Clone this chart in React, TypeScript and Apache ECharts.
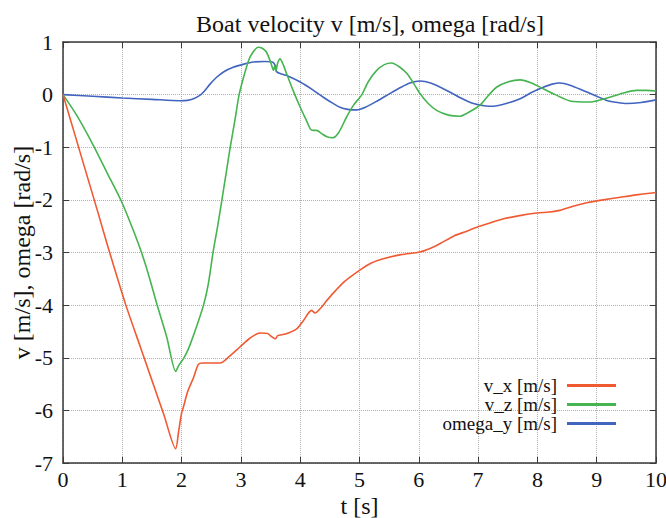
import React, { useEffect, useRef } from "react";
import * as echarts from "echarts";

const titleText = "Boat velocity v [m/s], omega [rad/s]";
const xName = "t [s]";
const yName = "v [m/s], omega [rad/s]";
const seriesNames = ["v_x [m/s]", "v_z [m/s]", "omega_y [m/s]"];
const seriesColors = ["#f05a32", "#46b450", "#4164be"];

const tVx = [0, 0.2, 0.4, 0.6, 0.76, 1.06, 1.3, 1.5, 1.7, 1.9, 1.95, 2.0, 2.03, 2.1, 2.2, 2.28, 2.35, 2.5, 2.65, 2.8, 2.98, 3.15, 3.32, 3.45, 3.52, 3.58, 3.62, 3.75, 3.94, 4.05, 4.19, 4.25, 4.35, 4.45, 4.6, 4.75, 5.0, 5.2, 5.4, 5.7, 6.02, 6.2, 6.36, 6.6, 6.8, 6.98, 7.2, 7.43, 7.7, 7.99, 8.2, 8.38, 8.6, 8.85, 9.11, 9.4, 9.7, 10];
const vx = [0, -0.76, -1.52, -2.28, -2.9, -4.0, -4.78, -5.43, -6.08, -6.73, -6.4, -6.05, -5.94, -5.65, -5.38, -5.13, -5.1, -5.1, -5.1, -4.98, -4.8, -4.63, -4.53, -4.54, -4.6, -4.64, -4.58, -4.55, -4.45, -4.3, -4.1, -4.15, -4.05, -3.91, -3.72, -3.55, -3.34, -3.2, -3.12, -3.04, -2.99, -2.92, -2.83, -2.68, -2.6, -2.52, -2.44, -2.36, -2.3, -2.25, -2.23, -2.2, -2.12, -2.05, -2.0, -1.95, -1.9, -1.86];

const tVz = [0, 0.23, 0.5, 0.75, 0.99, 1.2, 1.33, 1.45, 1.58, 1.75, 1.9, 1.95, 2.03, 2.1, 2.17, 2.27, 2.37, 2.45, 2.53, 2.6, 2.68, 2.75, 2.82, 2.9, 2.97, 3.05, 3.13, 3.2, 3.29, 3.36, 3.43, 3.5, 3.55, 3.57, 3.59, 3.62, 3.66, 3.72, 3.77, 3.88, 4.0, 4.1, 4.17, 4.22, 4.28, 4.36, 4.45, 4.55, 4.65, 4.78, 4.9, 5.04, 5.15, 5.29, 5.42, 5.54, 5.67, 5.8, 5.92, 6.02, 6.15, 6.3, 6.5, 6.69, 6.85, 7.03, 7.17, 7.31, 7.5, 7.71, 7.9, 8.1, 8.3, 8.55, 8.89, 9.22, 9.45, 9.67, 9.85, 10];
const vz = [0, -0.39, -0.94, -1.5, -2.04, -2.62, -3.02, -3.45, -3.97, -4.61, -5.26, -5.15, -5.02, -4.87, -4.67, -4.35, -4.0, -3.6, -3.0, -2.55, -2.0, -1.5, -1.0, -0.48, 0, 0.35, 0.65, 0.8, 0.9, 0.88, 0.81, 0.62, 0.46, 0.55, 0.45, 0.6, 0.68, 0.55, 0.4, 0.08, -0.24, -0.48, -0.65, -0.68, -0.68, -0.74, -0.8, -0.82, -0.72, -0.43, -0.2, 0, 0.25, 0.46, 0.57, 0.6, 0.53, 0.4, 0.2, 0.02, -0.16, -0.3, -0.39, -0.41, -0.33, -0.2, -0.02, 0.14, 0.24, 0.28, 0.22, 0.11, 0.0, -0.12, -0.14, -0.05, 0.03, 0.08, 0.08, 0.07];

const tOm = [0, 0.5, 1.0, 1.5, 1.97, 2.1, 2.2, 2.3, 2.37, 2.48, 2.59, 2.72, 2.87, 3.05, 3.21, 3.4, 3.53, 3.58, 3.6, 3.66, 3.8, 4.0, 4.2, 4.39, 4.5, 4.67, 4.8, 4.95, 5.1, 5.3, 5.51, 5.7, 5.85, 6.02, 6.2, 6.47, 6.7, 6.92, 7.1, 7.26, 7.5, 7.71, 7.9, 8.1, 8.25, 8.38, 8.55, 8.77, 9.0, 9.17, 9.35, 9.51, 9.75, 10];
const om = [0, -0.03, -0.065, -0.09, -0.115, -0.11, -0.08, -0.02, 0.05, 0.2, 0.33, 0.44, 0.52, 0.58, 0.62, 0.63, 0.62, 0.55, 0.44, 0.4, 0.35, 0.24, 0.1, -0.05, -0.13, -0.24, -0.28, -0.29, -0.24, -0.12, 0.02, 0.14, 0.22, 0.26, 0.22, 0.08, -0.06, -0.17, -0.21, -0.22, -0.16, -0.08, 0.04, 0.14, 0.2, 0.22, 0.18, 0.08, -0.03, -0.11, -0.15, -0.17, -0.15, -0.1];

const xMin = 0, xMax = 10, xInterval = 1;
const yMin = -7, yMax = 1, yInterval = 1;

const zip = (a: number[], b: number[]) => a.map((t, i) => [t, b[i]]);

const FONT = "Liberation Serif";

export default function App() {
  const ref = useRef<HTMLDivElement>(null);
  useEffect(() => {
    if (!ref.current) return;
    const chart = echarts.init(ref.current, undefined, { renderer: "svg" });
    const frame = { show: true, onZero: false, lineStyle: { color: "#3a3a3a", width: 1.5 } };
    const tick = { show: true, inside: true, length: 6, lineStyle: { color: "#3a3a3a", width: 1 } };
    const split = { show: true, lineStyle: { color: "#b0b0b0", type: "dotted", width: 1 } };
    const label = { fontFamily: FONT, fontSize: 22, color: "#111" };
    const datasets = [zip(tVx, vx), zip(tVz, vz), zip(tOm, om)];
    chart.setOption({
      animation: false,
      backgroundColor: "#ffffff",
      textStyle: { fontFamily: FONT },
      title: {
        text: titleText,
        left: 365,
        textAlign: "center",
        top: 7,
        textStyle: { fontFamily: FONT, fontSize: 24, fontWeight: "normal", color: "#111" },
      },
      grid: { left: 63, right: 10, top: 42, bottom: 55, outerBoundsMode: "none", containLabel: false },
      legend: {
        orient: "vertical",
        align: "right",
        right: 50,
        top: 376,
        padding: 0,
        itemWidth: 49,
        itemHeight: 3,
        itemGap: 0,
        icon: "rect",
        data: seriesNames,
        textStyle: { fontFamily: FONT, fontSize: 19, lineHeight: 19, color: "#111", padding: [0, 5, 0, 0] },
      },
      xAxis: [
        {
          type: "value", min: xMin, max: xMax, interval: xInterval,
          name: xName, nameLocation: "middle", nameGap: 31, nameMoveOverlap: false,
          nameTextStyle: { fontFamily: FONT, fontSize: 24, color: "#111" },
          axisLine: frame, axisTick: tick, splitLine: split,
          axisLabel: { ...label, margin: 5 },
        },
        {
          type: "value", min: xMin, max: xMax, interval: xInterval, position: "top",
          axisLine: frame, axisTick: tick, splitLine: { show: false }, axisLabel: { show: false },
        },
      ],
      yAxis: [
        {
          type: "value", min: yMin, max: yMax, interval: yInterval,
          name: yName, nameLocation: "middle", nameGap: 29, nameMoveOverlap: false,
          nameTextStyle: { fontFamily: FONT, fontSize: 24, color: "#111" },
          axisLine: frame, axisTick: tick, splitLine: split,
          axisLabel: { ...label, margin: 10 },
        },
        {
          type: "value", min: yMin, max: yMax, interval: yInterval, position: "right",
          axisLine: frame, axisTick: tick, splitLine: { show: false }, axisLabel: { show: false },
        },
      ],
      series: seriesNames.map((name, i) => ({
        name,
        type: "line",
        data: datasets[i],
        showSymbol: false,
        symbol: "none",
        smooth: 0.25,
        color: seriesColors[i],
        lineStyle: { color: seriesColors[i], width: 1.6 },
        z: 3 - i,
      })),
    });
    return () => chart.dispose();
  }, []);
  return (
    <div
      ref={ref}
      style={{ position: "absolute", left: 0, top: 0, width: 666, height: 518, background: "#fff" }}
    />
  );
}
